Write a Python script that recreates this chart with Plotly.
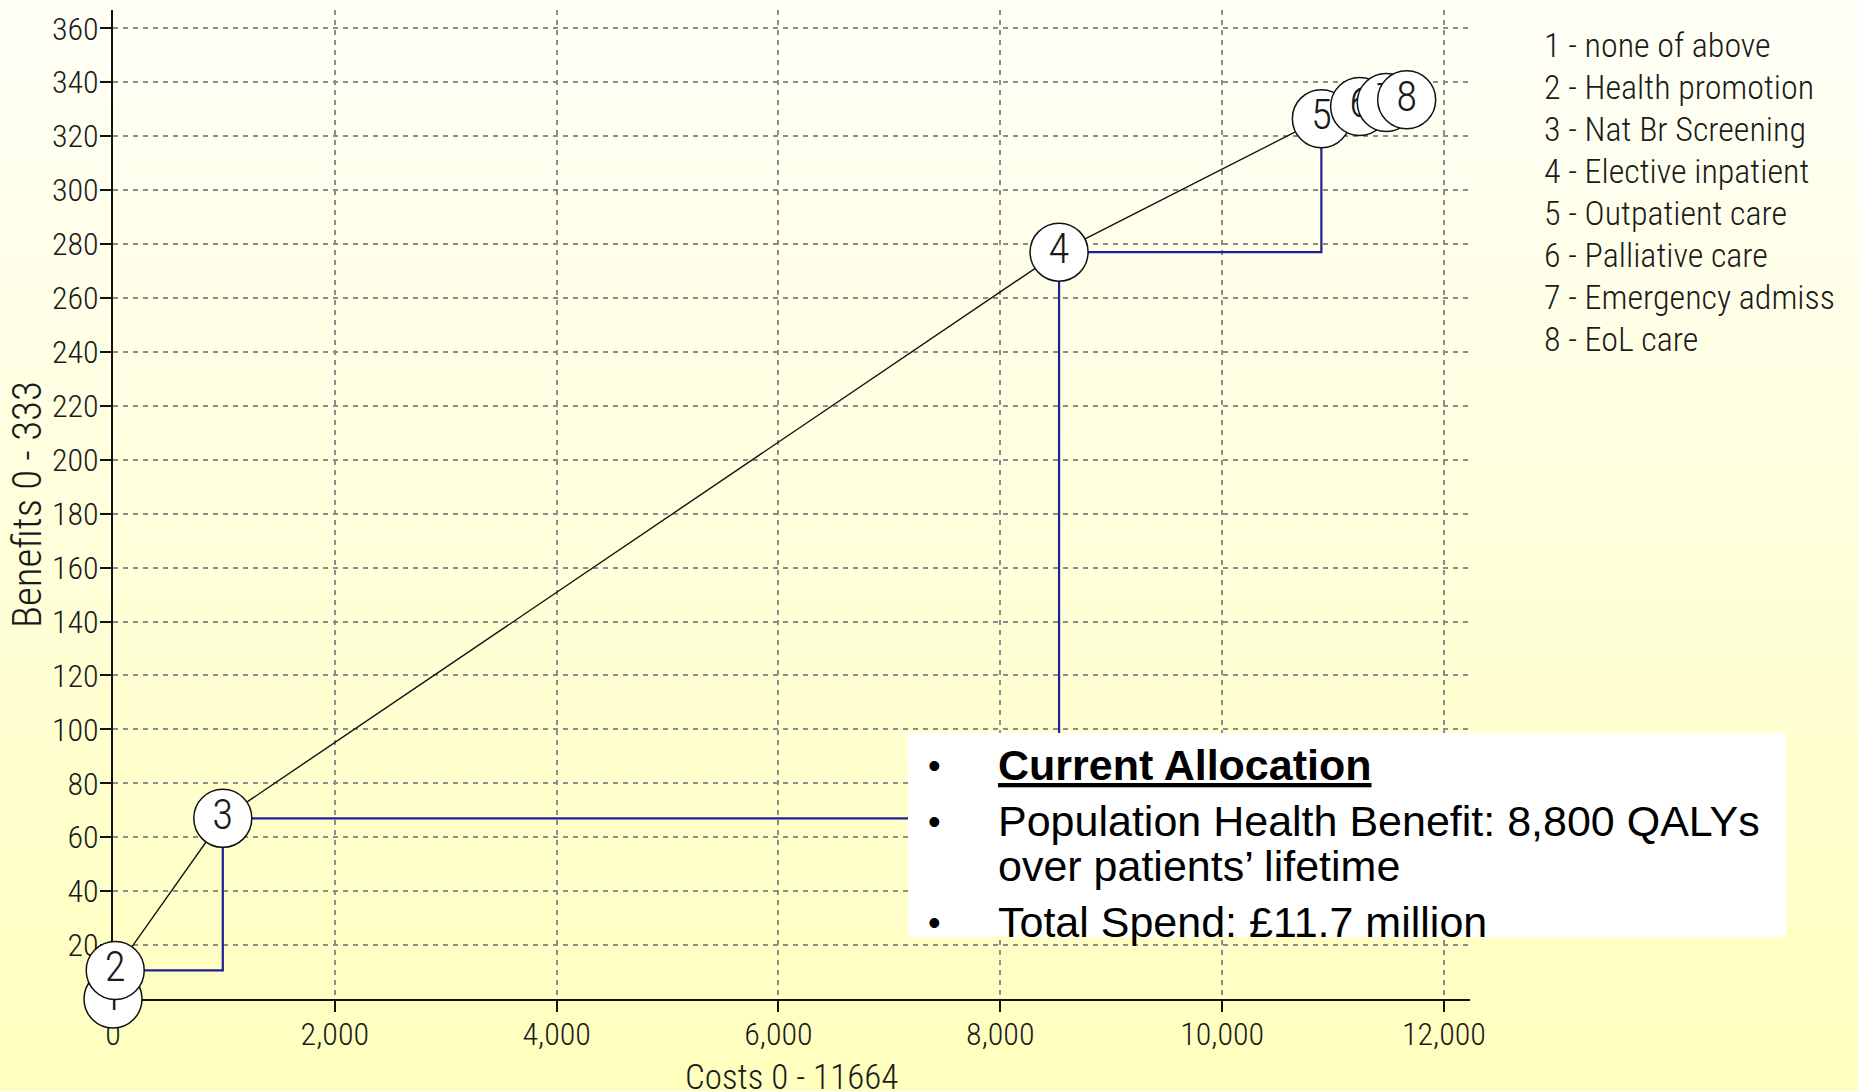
import plotly.graph_objects as go

# ---- data ----
option_ids = [1, 2, 3, 4, 5, 6, 7, 8]
option_names = [
    "none of above", "Health promotion", "Nat Br Screening", "Elective inpatient",
    "Outpatient care", "Palliative care", "Emergency admiss", "EoL care",
]
cum_costs = [0, 20, 990, 8530, 10895, 11240, 11480, 11664]
cum_benefits = [0, 10.6, 67, 277, 326.5, 331, 332.5, 333.5]

x_ticks = [0, 2000, 4000, 6000, 8000, 10000, 12000]
y_ticks = list(range(20, 361, 20))

x_title = "Costs 0 - 11664"
y_title = "Benefits 0 - 333"

box_heading = "Current Allocation"
box_lines = [
    "Population Health Benefit: 8,800 QALYs",
    "over patients\u2019 lifetime",
    "Total Spend: \u00a311.7 million",
]

# ---- page geometry (pixels) ----
W, H = 1858, 1091
ML, MR, MT, MB = 113, 388, 10, 92
PW, PH = W - ML - MR, H - MT - MB

NARROW = "Roboto Condensed, Liberation Sans Narrow, Arial Narrow, sans-serif"
ARIAL = "Liberation Sans, Arial, sans-serif"
INK = "#1a1a1a"


def fx(px):
    return (px - ML) / PW


def fy(py):
    return (H - MB - py) / PH


def narrow(size):
    return dict(family=NARROW, size=size, color=INK, weight=300)


fig = go.Figure()

# staircase of incremental steps
fig.add_trace(go.Scatter(
    x=cum_costs, y=cum_benefits, mode="lines", line_shape="hv",
    line=dict(color="#1f1f98", width=2.2), hoverinfo="skip",
))
# frontier joining the options
fig.add_trace(go.Scatter(
    x=cum_costs, y=cum_benefits, mode="lines",
    line=dict(color="#111111", width=1.4), hoverinfo="skip",
))
# one trace per option so later circles hide earlier numbers
for oid, cx, cy, name in zip(option_ids, cum_costs, cum_benefits, option_names):
    fig.add_trace(go.Scatter(
        x=[cx], y=[cy], mode="markers+text", text=[str(oid)],
        textposition="middle center", textfont=narrow(43),
        marker=dict(size=58, color="white", line=dict(color="#111111", width=1.5)),
        cliponaxis=False, name=name,
    ))

# background gradient, pale ivory to soft yellow
shapes = []
n_bands = 60
top, bottom = (255, 255, 247), (255, 255, 190)
for i in range(n_bands):
    t = i / (n_bands - 1)
    c = tuple(round(a + (b - a) * t) for a, b in zip(top, bottom))
    shapes.append(dict(
        type="rect", xref="paper", yref="paper", layer="below",
        x0=fx(-5), x1=fx(W + 5), y0=fy(i * H / n_bands - 1), y1=fy((i + 1) * H / n_bands + 1),
        fillcolor="rgb(%d,%d,%d)" % c, line=dict(width=0),
    ))
# white call-out box
shapes.append(dict(
    type="rect", xref="paper", yref="paper", layer="above",
    x0=fx(908), x1=fx(1786), y0=fy(937), y1=fy(733),
    fillcolor="white", line=dict(width=0),
))

annotations = []
# option key on the right
for k, (oid, name) in enumerate(zip(option_ids, option_names)):
    annotations.append(dict(
        text=f"{oid} - {name}", xref="paper", yref="paper",
        x=fx(1542), y=fy(45 + k * 41.96), xanchor="left", yanchor="middle",
        showarrow=False, font=narrow(34),
    ))
# axis titles
annotations.append(dict(
    text=y_title, xref="paper", yref="paper", x=fx(27), y=fy(505),
    textangle=-90, xanchor="center", yanchor="middle", showarrow=False,
    font=narrow(41),
))
annotations.append(dict(
    text=x_title, xref="paper", yref="paper", x=fx(791), y=fy(1077),
    xanchor="center", yanchor="middle", showarrow=False,
    font=narrow(35),
))
# call-out text
box_rows = [f"<b><u>{box_heading}</u></b>"] + box_lines
row_y = [765, 821, 866, 922]
for k, (txt, ry) in enumerate(zip(box_rows, row_y)):
    if k != 2:
        annotations.append(dict(
            text="\u2022", xref="paper", yref="paper", x=fx(934), y=fy(ry),
            xanchor="center", yanchor="middle", showarrow=False,
            font=dict(family=ARIAL, size=36, color="black"),
        ))
    annotations.append(dict(
        text=txt, xref="paper", yref="paper", x=fx(996), y=fy(ry),
        xanchor="left", yanchor="middle", showarrow=False,
        font=dict(family=ARIAL, size=43, color="black"),
    ))

axis_common = dict(
    showline=True, linecolor="#111111", linewidth=2,
    ticks="outside", ticklen=11, tickwidth=1.5, tickcolor="#111111",
    showgrid=True, gridcolor="#8c8c8c", gridwidth=1.5, griddash="5px,5px",
    zeroline=False, layer="below traces", automargin=False,
    tickfont=narrow(32), ticklabelstandoff=-5,
)

fig.update_layout(
    width=W, height=H,
    margin=dict(l=ML, r=MR, t=MT, b=MB, autoexpand=False),
    paper_bgcolor="rgb(255,255,220)", plot_bgcolor="rgba(0,0,0,0)",
    showlegend=False,
    xaxis=dict(range=[0, 12235], tickvals=x_ticks, tickformat=",d", **axis_common),
    yaxis=dict(range=[0, 366.8], tickvals=y_ticks, **axis_common),
    shapes=shapes, annotations=annotations,
)

fig.write_html(
    "out.html",
    config={"displayModeBar": False},
    post_script="document.body.style.margin='0';document.body.style.overflow='hidden';",
)
